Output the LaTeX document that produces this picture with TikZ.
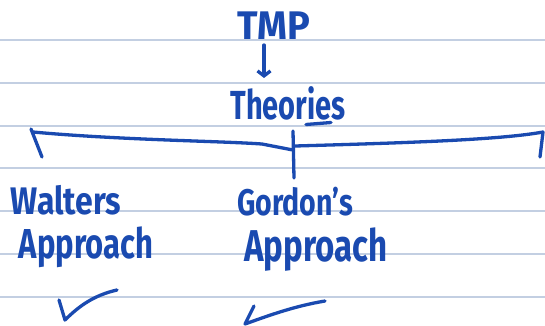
\documentclass[tikz,border=0pt]{standalone}
\usepackage{fontspec}
\setmainfont{Fira Sans}
\usetikzlibrary{arrows.meta}
\definecolor{ink}{HTML}{1A4AB0}
\definecolor{ruling}{HTML}{C3CFE2}
\tikzset{
  pen/.style={draw=ink, line width=3.3pt, line cap=round, line join=round},
  hand/.style={text=ink, inner sep=0pt, font=\bfseries\fontsize{#1}{#1}\selectfont},
  ruled/.style={draw=ruling, line width=1.3pt}
}
% stretched handwriting-like lettering
\newcommand{\tall}[2]{\scalebox{1}[#1]{#2}}
\begin{document}
\begin{tikzpicture}[x=1pt, y=-1pt]
  \useasboundingbox (0,0) rectangle (545,325);
  \fill[white] (0,0) rectangle (545,325);
  % ruled paper
  \foreach \yy in {40,83,126,168,211,254,297}
    \draw[ruled] (0,\yy) -- (545,\yy);

  % headings
  \node[hand=38] (tmp) at (274,26) {\tall{1.05}{TMP}};
  \node[hand=29] (theo) at (288,103) {\tall{1.4}{Theories}};
  \draw[pen] (306,124.5) -- (331,122.5);
  \draw[pen, -{Straight Barb[length=5pt, width=13pt]}]
    ([xshift=-10pt, yshift=-5pt]tmp.south) -- ([xshift=-24pt, yshift=8pt]theo.north);

  % brace over the two approaches
  \draw[pen] (31,129) -- (42,157);
  \draw[pen] (33,132) .. controls (120,140) and (220,141) .. (262,144) -- (293,150);
  \draw[pen] (295,146) .. controls (400,143) and (500,140) .. (543,132) -- (540,157);
  \draw[pen] (293,131) -- (294,178);

  % the two approaches
  \node[hand=32] (walt) at (66,200) {\tall{1.2}{Walters}};
  \node[hand=31] (appl) at (86,247) {\tall{1.35}{Approach}};
  \node[hand=28.5] (gord) at (295,202) {\tall{1.3}{Gordon's}};
  \node[hand=33] (appr) at (316,250) {\tall{1.35}{Approach}};

  % ticks
  \draw[pen] (59,300) -- (65,320) .. controls (80,305) and (95,295) .. (117,290);
  \draw[pen] (254,306) -- (245,324) .. controls (270,315) and (295,306) .. (325,301);
\end{tikzpicture}
\end{document}
